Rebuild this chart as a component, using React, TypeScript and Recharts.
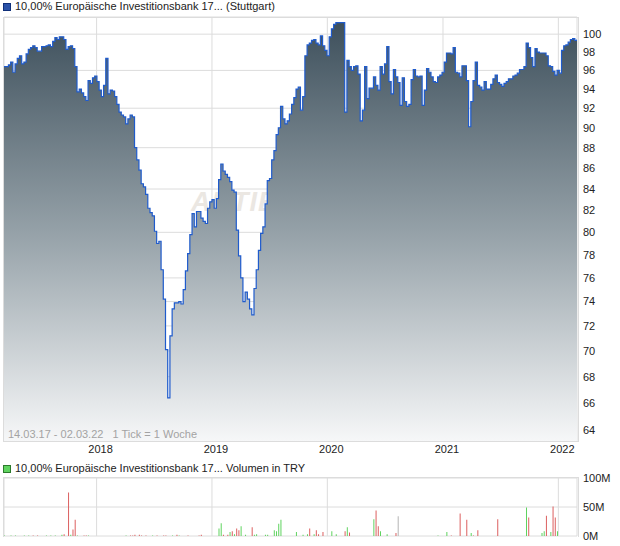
import React from 'react';
import { ComposedChart, Area, Bar, Cell, XAxis, YAxis, CartesianGrid } from 'recharts';

// weekly ticks, first one on 14.03.17
const startDate = Date.UTC(2017, 2, 14);
const weekMs = 7 * 86400000;

const yearLabels = ['2018', '2019', '2020', '2021', '2022'];
const priceTicks = [64, 66, 68, 70, 72, 74, 76, 78, 80, 82, 84, 86, 88, 90, 92, 94, 96, 98, 100];
const volumeTicks = [0, 50, 100];

// weekly closing prices (Stuttgart)
const prices = [
    96.4, 96.4, 96.6, 96.9, 95.8, 96.7, 97.3, 97.6, 96.7, 96.9,
    97.8, 98.3, 98.5, 98.7, 98.5, 98.1, 98.1, 98.6, 98.6, 98.7,
    98.8, 98.6, 99.2, 99.6, 99.4, 99.7, 99.7, 99.4, 98.3, 98.6,
    98.7, 98.4, 96.4, 93.7, 94.0, 93.6, 93.2, 92.8, 94.9, 94.6,
    95.2, 95.4, 94.8, 93.9, 93.2, 94.4, 97.3, 93.5, 93.9, 93.8,
    93.2, 92.4, 91.6, 91.3, 91.1, 90.4, 90.9, 91.3, 91.1, 88.0,
    86.8, 85.8, 84.5, 84.2, 83.5, 82.2, 81.8, 81.5, 80.1, 79.0,
    79.2, 76.7, 74.2, 70.1, 66.4, 71.2, 73.4, 73.9, 73.9, 74.0,
    73.8, 75.0, 76.6, 78.1, 79.8, 81.7, 80.5, 81.9, 81.9, 81.3,
    81.0, 80.8, 82.2, 82.8, 83.0, 82.2, 83.1, 84.9, 86.4, 85.7,
    85.4, 85.1, 84.7, 83.9, 83.7, 80.2, 77.9, 76.0, 74.0, 74.8,
    74.2, 73.4, 72.9, 75.1, 76.7, 78.4, 79.9, 80.5, 82.6, 84.8,
    85.0, 86.8, 87.7, 89.3, 90.0, 92.2, 90.9, 90.4, 90.7, 91.4,
    92.4, 93.1, 94.0, 94.2, 91.8, 93.2, 97.6, 98.8, 99.0, 99.3,
    99.4, 99.0, 98.8, 99.8, 98.7, 98.2, 97.6, 99.7, 100.6, 101.1,
    101.3, 101.3, 101.3, 101.3, 91.6, 97.1, 96.4, 96.0, 96.4, 96.5,
    95.6, 90.7, 91.8, 96.4, 93.0, 94.1, 94.1, 95.3, 94.4, 93.9,
    96.4, 95.6, 96.7, 98.6, 94.8, 93.5, 96.1, 95.3, 94.7, 92.3,
    95.2, 92.7, 92.2, 92.4, 95.0, 96.1, 95.4, 95.3, 95.4, 92.3,
    93.9, 96.2, 95.8, 95.3, 94.8, 94.7, 95.3, 95.5, 95.8, 96.9,
    97.9, 97.9, 97.8, 98.5, 95.8, 95.7, 95.3, 96.5, 96.5, 94.9,
    90.1, 92.7, 94.9, 96.9, 94.4, 94.2, 93.9, 94.8, 94.0, 94.0,
    94.5, 95.1, 95.5, 94.7, 94.5, 94.3, 94.6, 94.8, 95.1, 95.1,
    95.4, 95.5, 95.7, 96.1, 96.1, 96.4, 99.0, 98.5, 97.4, 96.4,
    98.4, 98.0, 97.9, 97.9, 97.9, 97.6, 96.5, 96.4, 95.9, 95.5,
    96.0, 95.7, 98.2, 98.7, 98.8, 99.1, 99.4, 99.5, 99.3, 99.4,
];

// weeks that traded, volume in millions TRY, u = up, d = down, n = unchanged
const volWeeks = [
    0, 3, 5, 9, 11, 13, 15, 19, 21, 23, 26, 27, 29, 30, 31, 32, 33, 36, 37, 38,
    55, 57, 58, 59, 61, 62, 64, 67, 69, 72, 73, 76, 78, 79, 83, 88, 89,
    97, 98, 99, 101, 102, 103, 104, 105, 106, 107, 109, 112, 113, 114, 118, 119,
    122, 123, 124, 125, 132, 135, 137, 138, 140, 141, 142, 144, 148, 150,
    154, 155, 156, 167, 168, 169, 170, 173, 177, 178, 196, 200, 202,
    206, 209, 211, 212, 214, 223, 236, 237, 243, 244, 245, 247, 248, 249, 250,
];
const volValues = [
    1, 1, 1, 1, 1, 1, 1, 1, 1, 1, 2, 3, 75, 2, 11, 28, 1, 1, 1, 1,
    1, 1, 1, 2, 2, 1, 1, 1, 1, 1, 1, 1, 2, 1, 1, 1, 2,
    13, 22, 2, 2, 7, 8, 3, 13, 10, 17, 2, 15, 2, 3, 2, 2,
    10, 8, 21, 28, 7, 2, 3, 13, 3, 10, 3, 7, 8, 3,
    8, 15, 6, 29, 44, 17, 8, 3, 5, 34, 1, 7, 1,
    39, 28, 5, 1, 10, 29, 49, 32, 5, 8, 35, 7, 51, 32, 8,
];
const volSide = [
    'u', 'u', 'u', 'u', 'u', 'd', 'd', 'u', 'u', 'u', 'u', 'd', 'd', 'u', 'd', 'd', 'u', 'd', 'd', 'u',
    'u', 'd', 'd', 'd', 'd', 'd', 'd', 'u', 'd', 'd', 'd', 'u', 'd', 'u', 'd', 'd', 'd',
    'u', 'u', 'd', 'd', 'u', 'd', 'u', 'd', 'd', 'u', 'u', 'd', 'u', 'u', 'u', 'u',
    'u', 'u', 'u', 'u', 'u', 'u', 'u', 'd', 'u', 'd', 'd', 'd', 'u', 'u',
    'd', 'u', 'd', 'u', 'd', 'd', 'u', 'u', 'd', 'n', 'u', 'u', 'd',
    'd', 'd', 'u', 'd', 'd', 'd', 'u', 'd', 'u', 'u', 'd', 'u', 'd', 'd', 'u',
];

const sideColor = { u: '#5fd35f', d: '#dc5f5f', n: '#b4b4b4' };
const font = '"Liberation Sans", Arial, sans-serif';
const grid = '#dcdcdc';

export default function App() {
    const yearWeeks = yearLabels.map((y) => (Date.UTC(Number(y), 0, 1) - startDate) / weekMs);
    const yearName = (v) => yearLabels[yearWeeks.indexOf(v)] ?? '';
    const priceRows = prices.map((p, i) => ({ w: i, p }));
    const volRows = prices.map((_, i) => ({ w: i, v: 0, s: 'n' }));
    volWeeks.forEach((w, k) => {
        volRows[w].v = volValues[k];
        volRows[w].s = volSide[k];
    });
    const last = prices.length - 1;
    const tickStyle = { fontSize: 11, fill: '#222', fontFamily: font };

    return (
        <div style={{ position: 'absolute', left: 0, top: 0, width: 620, height: 546, background: '#fff', fontFamily: font, overflow: 'hidden' }}>
            {/* watermark behind the price area */}
            <div style={{ position: 'absolute', left: 191, top: 187, fontSize: 27, fontStyle: 'italic', fontWeight: 'bold', color: '#ebe7e2', letterSpacing: 1 }}>
                AKTIE
            </div>

            <div style={{ position: 'absolute', left: 3, top: 3, width: 6, height: 6, background: '#2a52a8', border: '1px solid #10307a' }} />
            <div style={{ position: 'absolute', left: 15, top: 0, fontSize: 11, lineHeight: '13px', color: '#222' }}>
                10,00% Europäische Investitionsbank 17... (Stuttgart)
            </div>

            <div style={{ position: 'absolute', left: 0, top: 0 }}>
                <ComposedChart width={620} height={461} data={priceRows} margin={{ top: 17, right: 0, bottom: 0, left: 4 }}>
                    <defs>
                        <linearGradient id="priceFill" x1="0" y1="0" x2="0" y2="1">
                            <stop offset="0%" stopColor="#3e505c" />
                            <stop offset="50%" stopColor="#95a1a8" />
                            <stop offset="100%" stopColor="#f6f7f8" />
                        </linearGradient>
                    </defs>
                    <CartesianGrid stroke={grid} />
                    <XAxis
                        type="number"
                        dataKey="w"
                        domain={[0, last]}
                        ticks={yearWeeks}
                        tickFormatter={yearName}
                        axisLine={false}
                        tickLine={false}
                        tickSize={0}
                        tickMargin={4}
                        height={20}
                        tick={{ ...tickStyle, dx: 4 }}
                        allowDataOverflow
                    />
                    <YAxis
                        orientation="right"
                        type="number"
                        scale="log"
                        domain={[63.25, 101.95]}
                        ticks={priceTicks}
                        axisLine={false}
                        tickLine={false}
                        tickSize={0}
                        tickMargin={6}
                        width={43}
                        tick={tickStyle}
                        allowDataOverflow
                    />
                    <Area
                        type="stepAfter"
                        dataKey="p"
                        baseValue="dataMin"
                        stroke="#1f5bcc"
                        strokeWidth={1.2}
                        fill="url(#priceFill)"
                        fillOpacity={1}
                        dot={false}
                        activeDot={false}
                        isAnimationActive={false}
                    />
                </ComposedChart>
            </div>

            <div style={{ position: 'absolute', left: 3, top: 17, width: 574, height: 423, border: `1px solid ${grid}`, pointerEvents: 'none' }} />
            <div style={{ position: 'absolute', left: 8, top: 428, fontSize: 11, lineHeight: '13px', color: '#a3a3a3', whiteSpace: 'pre' }}>
                {'14.03.17 - 02.03.22   1 Tick = 1 Woche'}
            </div>

            <div style={{ position: 'absolute', left: 3, top: 465, width: 6, height: 6, background: '#5fd35f', border: '1px solid #2c7a2c' }} />
            <div style={{ position: 'absolute', left: 15, top: 462, fontSize: 11, lineHeight: '13px', color: '#222' }}>
                10,00% Europäische Investitionsbank 17... Volumen in TRY
            </div>

            <div style={{ position: 'absolute', left: 0, top: 470 }}>
                <ComposedChart width={620} height={76} data={volRows} margin={{ top: 8, right: 0, bottom: 10, left: 4 }}>
                    <CartesianGrid stroke={grid} />
                    <XAxis type="number" dataKey="w" domain={[0, last]} ticks={yearWeeks} hide allowDataOverflow />
                    <YAxis
                        orientation="right"
                        type="number"
                        domain={[0, 100]}
                        ticks={volumeTicks}
                        tickFormatter={(v) => `${v}M`}
                        axisLine={false}
                        tickLine={false}
                        tickSize={0}
                        tickMargin={6}
                        width={43}
                        tick={tickStyle}
                    />
                    <Bar dataKey="v" barSize={1} isAnimationActive={false}>
                        {volRows.map((r, k) => (
                            <Cell key={k} fill={sideColor[r.s]} />
                        ))}
                    </Bar>
                </ComposedChart>
            </div>
            <div style={{ position: 'absolute', left: 3, top: 477, width: 574, height: 59, border: `1px solid ${grid}`, borderBottom: 'none', pointerEvents: 'none' }} />
        </div>
    );
}
